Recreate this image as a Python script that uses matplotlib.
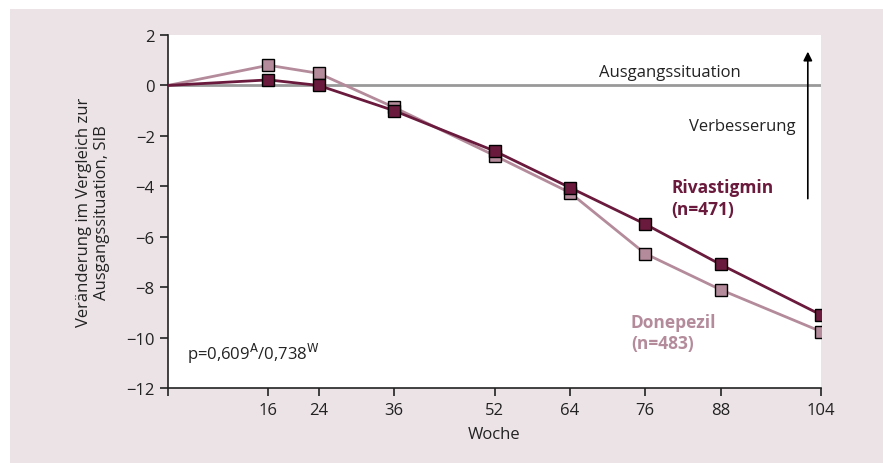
import matplotlib
matplotlib.use("Agg")
import matplotlib.pyplot as plt
from matplotlib.patches import Rectangle

weeks = [0, 16, 24, 36, 52, 64, 76, 88, 104]
rivastigmin = [0, 0.22, 0.0, -1.0, -2.6, -4.05, -5.5, -7.1, -9.1]
donepezil = [0, 0.8, 0.48, -0.87, -2.78, -4.25, -6.67, -8.1, -9.76]
xticks = [16, 24, 36, 52, 64, 76, 88, 104]
yticks = [2, 0, -2, -4, -6, -8, -10, -12]

c_riv = "#6a1a3c"
c_don = "#b48b9b"
bg = "#ece3e7"

plt.rcParams['font.family'] = ['Open Sans', 'DejaVu Sans']

fig = plt.figure(figsize=(8.83, 4.64), dpi=100, facecolor="white")
fig.patches.append(Rectangle((10/883, 0), 1 - 10/883, 1 - 10/464, transform=fig.transFigure,
                             facecolor=bg, edgecolor="none", zorder=-10))
ax = fig.add_axes([168/883, 1 - 389/464, (821-168)/883, (389-36)/464])
ax.set_facecolor("white")

ax.plot([0, 104], [0, 0], color="#999999", lw=2, zorder=1)
ax.plot(weeks, donepezil, color=c_don, lw=2, zorder=2)
ax.plot(weeks[1:], donepezil[1:], ls="none", marker="s", ms=8.5, mfc=c_don, mec="black", mew=1, zorder=3)
ax.plot(weeks, rivastigmin, color=c_riv, lw=2, zorder=4)
ax.plot(weeks[1:], rivastigmin[1:], ls="none", marker="s", ms=8.5, mfc=c_riv, mec="black", mew=1, zorder=5)

ax.set_xlim(0, 104)
ax.set_ylim(-12, 2)
ax.set_xticks([0] + xticks)
ax.set_xticklabels([""] + [str(x) for x in xticks])
ax.set_yticks(yticks)
ax.set_yticklabels([str(y).replace("-", "\u2212") for y in yticks])
for s in ["top", "right"]:
    ax.spines[s].set_visible(False)
for s in ["left", "bottom"]:
    ax.spines[s].set_color("#222222")
    ax.spines[s].set_linewidth(1.2)
ax.tick_params(axis="both", direction="out", length=6, width=1.2, color="#222222",
               labelsize=12, labelcolor="#222222")
ax.tick_params(axis="x", pad=4)

ax.set_xlabel("Woche", fontsize=12, color="#222222", labelpad=6)
ax.set_ylabel("Veränderung im Vergleich zur\nAusgangssituation, SIB", fontsize=12,
              color="#222222", labelpad=12, linespacing=1.1)

ax.annotate("", xy=(101.9, 1.45), xytext=(101.9, -4.6),
            arrowprops=dict(arrowstyle="-|>", color="black", lw=1.2, mutation_scale=13))
ax.text(80, 0.55, "Ausgangssituation", fontsize=12, ha="center", va="center", color="#222222")
ax.text(100.0, -1.6, "Verbesserung", fontsize=12, ha="right", va="center", color="#222222")
ax.text(80.2, -4.48, "Rivastigmin\n(n=471)", fontsize=12.5, fontweight="bold", color=c_riv,
        ha="left", va="center", linespacing=1.3)
ax.text(73.7, -9.8, "Donepezil\n(n=483)", fontsize=12.5, fontweight="bold", color=c_don,
        ha="left", va="center", linespacing=1.2)
ax.text(3, -10.6, r"p=0,609$^{\mathrm{A}}$/0,738$^{\mathrm{W}}$", fontsize=12, color="#222222",
        ha="left", va="center")

fig.savefig("out.png", dpi=100, facecolor=fig.get_facecolor())
